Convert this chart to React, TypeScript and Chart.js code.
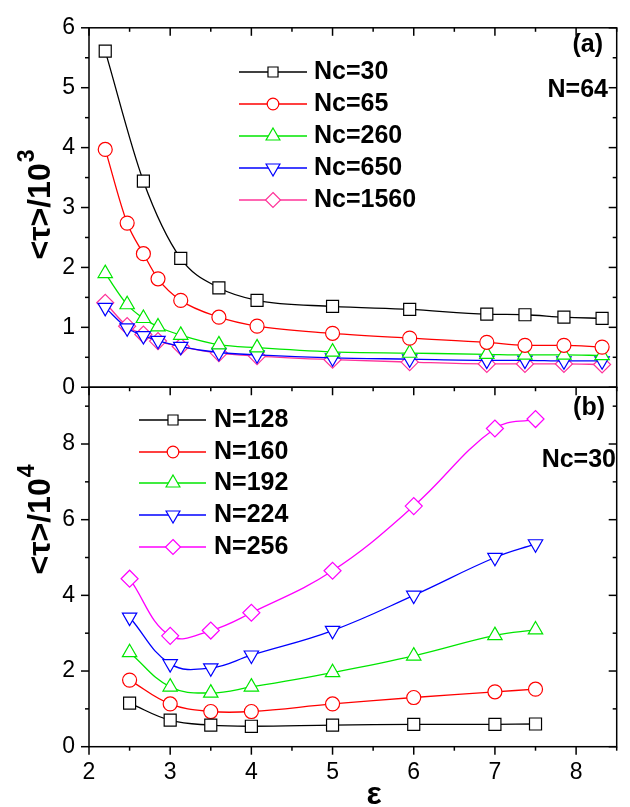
import React, { useEffect, useRef } from 'react';
import { Chart, registerables } from 'chart.js';

Chart.register(...registerables);

// ---------- data ----------
const epsA = [2.2, 2.47, 2.67, 2.85, 3.13, 3.6, 4.07, 5.0, 5.95, 6.9, 7.37, 7.85, 8.32];
const epsNc30 = [2.2, 2.67, 3.13, 3.6, 4.07, 5.0, 5.95, 6.9, 7.37, 7.85, 8.32];
const nc30 = [5.61, 3.44, 2.15, 1.66, 1.45, 1.35, 1.3, 1.22, 1.21, 1.17, 1.15];
const nc65 = [3.97, 2.74, 2.23, 1.81, 1.45, 1.17, 1.02, 0.9, 0.82, 0.75, 0.7, 0.7, 0.67];
const nc260 = [1.9, 1.38, 1.15, 1.01, 0.87, 0.71, 0.66, 0.59, 0.57, 0.55, 0.54, 0.54, 0.53];
const nc650 = [1.33, 0.99, 0.86, 0.78, 0.68, 0.58, 0.54, 0.49, 0.47, 0.45, 0.45, 0.44, 0.44];
const nc1560 = [1.41, 1.02, 0.88, 0.77, 0.68, 0.57, 0.52, 0.46, 0.42, 0.39, 0.39, 0.39, 0.38];

const epsB = [2.5, 3, 3.5, 4, 5, 6, 7, 7.5];
const n128 = [1.15, 0.7, 0.57, 0.54, 0.57, 0.59, 0.59, 0.6];
const n160 = [1.76, 1.13, 0.93, 0.93, 1.13, 1.3, 1.45, 1.52];
const n192 = [2.49, 1.58, 1.42, 1.58, 1.96, 2.4, 2.94, 3.09];
const n224 = [3.42, 2.19, 2.08, 2.42, 3.07, 4.0, 5.0, 5.36];
const n256 = [4.44, 2.93, 3.07, 3.54, 4.65, 6.36, 8.41, 8.66];

const labelsA = ['Nc=30', 'Nc=65', 'Nc=260', 'Nc=650', 'Nc=1560'];
const labelsB = ['N=128', 'N=160', 'N=192', 'N=224', 'N=256'];

const xTicks = [2, 3, 4, 5, 6, 7, 8];
const xMinor = [2.5, 3.5, 4.5, 5.5, 6.5, 7.5, 8.5];
const yaTicks = [0, 1, 2, 3, 4, 5, 6];
const yaMinor = [0.5, 1.5, 2.5, 3.5, 4.5, 5.5];
const ybTicks = [0, 2, 4, 6, 8];
const ybMinor = [1, 3, 5, 7, 9];

const colorsA = ['#000000', '#ff0000', '#00e600', '#0000ff', '#ff3399'];
const colorsB = ['#000000', '#ff0000', '#00e600', '#0000ff', '#ff00ff'];
const styles = ['rect', 'circle', 'triangle', 'triangle', 'rectRot'];
const rots = [0, 0, 0, 180, 0];
const radii = [8.5, 7, 8.3, 8.3, 8.5];
const legendRadii = [7.1, 5.8, 8, 8, 7.5];

const FONT = "'Liberation Sans', Arial, Helvetica, sans-serif";

function pts(xs: number[], ys: number[]) {
  return xs.map((x, i) => ({ x, y: ys[i] }));
}

function drawMarker(ctx: CanvasRenderingContext2D, style: string, rot: number, x: number, y: number, r: number) {
  ctx.beginPath();
  if (style === 'circle') {
    ctx.arc(x, y, r, 0, Math.PI * 2);
  } else if (style === 'rect') {
    const s = r * Math.SQRT1_2;
    ctx.rect(x - s, y - s, 2 * s, 2 * s);
  } else if (style === 'rectRot') {
    ctx.moveTo(x, y - r);
    ctx.lineTo(x + r, y);
    ctx.lineTo(x, y + r);
    ctx.lineTo(x - r, y);
    ctx.closePath();
  } else {
    let a = (rot * Math.PI) / 180;
    for (let k = 0; k < 3; k++) {
      const px = x + Math.sin(a) * r;
      const py = y - Math.cos(a) * r;
      if (k === 0) ctx.moveTo(px, py);
      else ctx.lineTo(px, py);
      a += (2 * Math.PI) / 3;
    }
    ctx.closePath();
  }
  ctx.fillStyle = '#ffffff';
  ctx.fill();
  ctx.stroke();
}

export default function App() {
  const ref = useRef<HTMLCanvasElement>(null);

  useEffect(() => {
    const canvas = ref.current;
    if (!canvas) return;

    const mk = (label: string, data: any[], i: number, colors: string[], axis: string, panelA: boolean) => ({
      label,
      data,
      borderColor: colors[i],
      backgroundColor: '#ffffff',
      pointBorderColor: colors[i],
      pointBackgroundColor: '#ffffff',
      pointStyle: styles[i],
      pointRotation: rots[i],
      pointRadius: radii[i],
      pointBorderWidth: 1.2,
      borderWidth: 1.3,
      yAxisID: axis,
      tension: 0.4,
      cubicInterpolationMode: panelA ? 'monotone' : 'default',
      fill: false,
    });

    const datasets: any[] = [
      mk(labelsA[0], pts(epsNc30, nc30), 0, colorsA, 'ya', true),
      mk(labelsA[1], pts(epsA, nc65), 1, colorsA, 'ya', true),
      mk(labelsA[2], pts(epsA, nc260), 2, colorsA, 'ya', true),
      mk(labelsA[3], pts(epsA, nc650), 3, colorsA, 'ya', true),
      mk(labelsA[4], pts(epsA, nc1560), 4, colorsA, 'ya', true),
      mk(labelsB[0], pts(epsB, n128), 0, colorsB, 'yb', false),
      mk(labelsB[1], pts(epsB, n160), 1, colorsB, 'yb', false),
      mk(labelsB[2], pts(epsB, n192), 2, colorsB, 'yb', false),
      mk(labelsB[3], pts(epsB, n224), 3, colorsB, 'yb', false),
      mk(labelsB[4], pts(epsB, n256), 4, colorsB, 'yb', false),
    ];

    const tickFont = { family: FONT, size: 23 };

    const framePlugin = {
      id: 'frame',
      afterDatasetsDraw(chart: any) {
        const { ctx, chartArea, scales } = chart;
        const { left, right } = chartArea;
        const xs = scales.x, ya = scales.ya, yb = scales.yb;
        ctx.save();
        ctx.strokeStyle = '#000';
        ctx.lineWidth = 1.5;
        const seg = (x1: number, y1: number, x2: number, y2: number) => {
          ctx.beginPath();
          ctx.moveTo(x1, y1);
          ctx.lineTo(x2, y2);
          ctx.stroke();
        };
        for (const s of [ya, yb]) {
          ctx.strokeRect(left, s.top, right - left, s.bottom - s.top);
        }
        const yTickDraw = (s: any, vals: number[], len: number) => {
          for (const v of vals) {
            const p = s.getPixelForValue(v);
            seg(left - len, p, left, p);
            seg(right - len, p, right, p);
          }
        };
        yTickDraw(ya, yaTicks, 8);
        yTickDraw(ya, yaMinor, 4);
        yTickDraw(yb, ybTicks, 8);
        yTickDraw(yb, ybMinor, 4);
        const xTickDraw = (vals: number[], len: number) => {
          for (const v of vals) {
            const p = xs.getPixelForValue(v);
            seg(p, ya.top, p, ya.top + len);
            seg(p, ya.bottom, p, ya.bottom + len);
            seg(p, yb.bottom, p, yb.bottom + len);
          }
        };
        xTickDraw(xTicks, 8);
        xTickDraw(xMinor, 4);
        ctx.restore();
      },
      afterDraw(chart: any) {
        const { ctx } = chart;
        ctx.save();
        // legends
        const legend = (labels: string[], colors: string[], x1: number, xm: number, x2: number, xt: number, rows: number[]) => {
          labels.forEach((lab, i) => {
            const y = rows[i];
            ctx.strokeStyle = colors[i];
            ctx.lineWidth = 1.3;
            ctx.beginPath();
            ctx.moveTo(x1, y);
            ctx.lineTo(x2, y);
            ctx.stroke();
            ctx.lineWidth = 1.2;
            drawMarker(ctx, styles[i], rots[i], xm, y, legendRadii[i]);
            ctx.fillStyle = '#000';
            ctx.font = `bold 25px ${FONT}`;
            ctx.textAlign = 'left';
            ctx.textBaseline = 'middle';
            ctx.fillText(lab, xt, y);
          });
        };
        legend(labelsA, colorsA, 239, 273, 307, 314, [72, 104, 136, 168, 200]);
        legend(labelsB, colorsB, 139, 173, 206, 214, [420, 452, 483, 515, 547]);

        // annotations
        ctx.fillStyle = '#000';
        ctx.font = `bold 25px ${FONT}`;
        ctx.textAlign = 'right';
        ctx.textBaseline = 'middle';
        ctx.fillText('(a)', 603, 45);
        ctx.fillText('N=64', 608, 90);
        ctx.fillText('(b)', 605, 408);
        ctx.fillText('Nc=30', 616, 460);

        // x-axis title
        ctx.font = `bold 32px ${FONT}`;
        ctx.textAlign = 'center';
        ctx.textBaseline = 'alphabetic';
        ctx.fillText('ε', 374, 804);

        // y-axis titles
        const yTitle = (cx: number, cy: number, sup: string) => {
          ctx.save();
          ctx.translate(cx, cy);
          ctx.rotate(-Math.PI / 2);
          const mainFont = `bold 32px ${FONT}`;
          const supFont = `bold 23px ${FONT}`;
          ctx.font = mainFont;
          const w1 = ctx.measureText('<τ>/10').width;
          ctx.font = supFont;
          const w2 = ctx.measureText(sup).width;
          const start = -(w1 + w2) / 2;
          ctx.textAlign = 'left';
          ctx.textBaseline = 'alphabetic';
          ctx.font = mainFont;
          ctx.fillText('<τ>/10', start, 0);
          ctx.font = supFont;
          ctx.fillText(sup, start + w1 + 1, -16);
          ctx.restore();
        };
        yTitle(50, 205, '3');
        yTitle(50, 520, '4');
        ctx.restore();
      },
    };

    const chart = new Chart(canvas, {
      type: 'line',
      data: { datasets },
      options: {
        animation: false,
        responsive: false,
        events: [],
        layout: { padding: { top: 12, right: 13.3, left: 0, bottom: 0 }, autoPadding: false } as any,
        plugins: {
          legend: { display: false },
          tooltip: { enabled: false },
        },
        scales: {
          x: {
            type: 'linear',
            min: 2,
            max: 8.5,
            grid: { display: false, drawTicks: false },
            border: { display: false },
            ticks: { font: tickFont, color: '#000', padding: 12, maxRotation: 0, autoSkip: false },
            afterBuildTicks: (s: any) => {
              s.ticks = xTicks.map((v) => ({ value: v }));
            },
            afterFit: (s: any) => {
              s.height = 60.3;
            },
          },
          yb: {
            type: 'linear',
            position: 'left',
            stack: 'panels',
            stackWeight: 1,
            min: 0,
            max: 9.5,
            grid: { display: false, drawTicks: false },
            border: { display: false },
            ticks: { font: tickFont, color: '#000', padding: 14, autoSkip: false },
            afterBuildTicks: (s: any) => {
              s.ticks = ybTicks.map((v) => ({ value: v }));
            },
            afterFit: (s: any) => {
              s.width = 89;
            },
          },
          ya: {
            type: 'linear',
            position: 'left',
            stack: 'panels',
            stackWeight: 1,
            min: 0,
            max: 6,
            grid: { display: false, drawTicks: false },
            border: { display: false },
            ticks: { font: tickFont, color: '#000', padding: 14, autoSkip: false },
            afterBuildTicks: (s: any) => {
              s.ticks = yaTicks.map((v) => ({ value: v }));
            },
            afterFit: (s: any) => {
              s.width = 89;
            },
          },
        } as any,
      },
      plugins: [framePlugin],
    });

    return () => chart.destroy();
  }, []);

  return (
    <div style={{ position: 'fixed', left: 0, top: 0, width: 630, height: 807, background: '#fff' }}>
      <canvas ref={ref} width={630} height={807} style={{ display: 'block', width: 630, height: 807 }} />
    </div>
  );
}
